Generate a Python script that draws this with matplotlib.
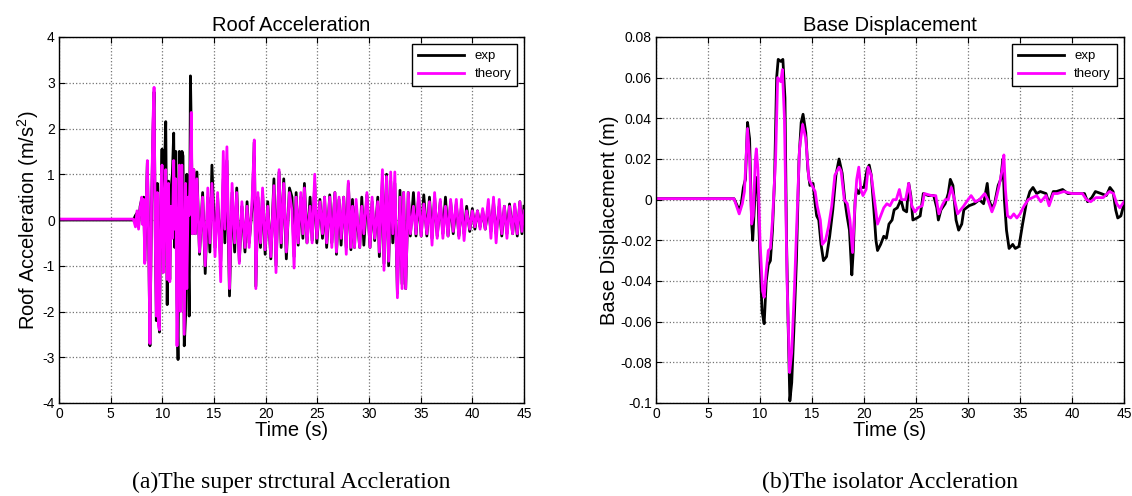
import matplotlib
matplotlib.use("Agg")
import matplotlib.pyplot as plt

# ---------------- data: roof acceleration ----------------
t_acc = [0.0, 7.2, 7.4, 7.55, 7.7, 7.85, 8.0, 8.1, 8.2, 8.3, 8.42, 8.55, 8.68, 8.8, 8.95,
         9.1, 9.2, 9.32, 9.42, 9.52, 9.62, 9.72, 9.85, 9.97, 10.1, 10.22, 10.33, 10.47, 10.6,
         10.72, 10.85, 10.97, 11.1, 11.2, 11.3, 11.42, 11.52, 11.65, 11.77, 11.9, 12.0, 12.12,
         12.25, 12.37, 12.5, 12.6, 12.72, 12.8, 12.92, 13.05, 13.2,
         13.35, 13.6, 13.9, 14.15, 14.4, 14.6, 14.8, 15.1, 15.35, 15.65, 15.9, 16.05, 16.25,
         16.5, 16.75, 17.0, 17.2, 17.45, 17.7, 18.0, 18.2, 18.4, 18.7, 18.9, 19.05, 19.25,
         19.5, 19.7, 19.95, 20.2, 20.5, 20.8, 21.0, 21.3, 21.5, 21.75, 22.0, 22.3, 22.55,
         22.75, 22.95, 23.15, 23.4, 23.6, 23.75, 24.0, 24.3, 24.5, 24.75, 24.95, 25.25, 25.5,
         25.7, 25.9, 26.2, 26.4, 26.7, 26.85, 27.1, 27.3, 27.55, 27.8, 28.0, 28.25, 28.4,
         28.6, 28.75, 29.1, 29.3, 29.5, 29.8, 30.1, 30.3, 30.55, 30.85, 31.0, 31.3, 31.45,
         31.7, 31.9, 32.1, 32.3, 32.5, 32.75, 33.0, 33.2, 33.35, 33.55, 33.8, 34.0, 34.3,
         34.55, 34.8, 35.05, 35.3, 35.6, 35.85, 36.1, 36.35, 36.6, 36.9, 37.15, 37.4, 37.65,
         37.9, 38.15, 38.45, 38.7, 38.95, 39.2, 39.45, 39.75, 40.0, 40.25, 40.5, 40.75, 41.0,
         41.25, 41.55, 41.8, 42.05, 42.3, 42.6, 42.85, 43.1, 43.35, 43.6, 43.9, 44.1, 44.35,
         44.6, 44.8, 45.0]

acc_theory = [0.02, 0.02, -0.15, 0.2, -0.2, 0.25, 0.5, -0.1, 0.45, -0.95, 0.2, 1.3, -0.5, -2.7, 0.3,
              2.2, 2.9, -0.5, -2.1, 0.6, -2.3, -2.4, 0.5, 1.2, -1.15, 0.4, 1.1, -1.3, 0.8,
              -1.35, 0.3, -0.4, 1.3, -0.2, 0.9, -2.75, -0.8, 1.2, -2.0, 1.2, -0.5, -2.5,
              0.8, -1.5, 0.5, 0.1, 1.3, 2.35, -0.3, 1.1, -0.3,
              0.9, -0.7, 0.5, -1.0, 0.7, -0.5, 0.8, -0.8, 0.6, -1.35, 1.5, -0.2, 1.6,
              -1.5, 0.8, -0.5, 0.6, -0.95, 0.4, -0.6, 0.3, -0.6, 0.5, 1.75, -1.5, 0.6,
              -0.5, 0.7, -0.65, 0.3, -0.8, 0.75, -1.15, 1.1, -0.5, 0.8, -0.7, 0.6, 0.2,
              -1.05, 0.5, -0.5, 0.6, -0.3, 0.7, -0.5, 0.3, -0.5, 1.0, -0.4, 0.4, -0.3,
              0.5, -0.5, 0.5, -0.6, 0.6, -0.7, 0.5, -0.4, 0.5, -0.75, 0.85, -0.6, 0.3,
              -0.6, 0.45, -0.6, 0.3, -0.3, 0.6, -0.6, 0.5, -0.4, 0.4, -0.7, 1.1, -1.1,
              0.95, -0.9, 1.05, -0.3, 1.05, -1.7, 0.5, -1.5, 0.6, -1.5, 0.6, -0.3, 0.3,
              -0.3, 0.6, -0.35, 0.35, -0.3, 0.4, -0.55, 0.6, -0.4, 0.45, -0.4, 0.3, -0.35,
              0.45, -0.25, 0.45, -0.4, 0.45, -0.45, 0.2, -0.2, 0.2, -0.15, 0.2, -0.2, 0.25,
              -0.2, 0.45, -0.4, 0.5, -0.5, 0.45, -0.3, 0.3, -0.4, 0.3, -0.3, 0.35, -0.3,
              0.4, -0.25, 0.2]

acc_exp = [0.0, 0.0, 0.1, 0.15, -0.15, 0.3, 0.45, 0.0, 0.5, -0.9, 0.1, 1.25, -0.4, -2.75, 0.2,
           2.0, 2.8, -0.3, -2.2, 0.8, -2.0, -2.45, 0.3, 1.55, -0.75, 1.2, 2.15, -1.85, 0.85,
           -1.3, 0.7, 1.0, 1.9, -0.6, 1.5, -1.8, -3.05, 1.5, -0.6, 1.5, 1.4, -2.75,
           -2.1, 1.0, -0.6, -2.1, 3.15, 2.0, -0.3, 1.1, -0.3,
           1.05, -0.75, 0.6, -1.17, 0.5, -0.7, 1.2, -0.6, 0.5, -0.9, 0.9, -0.5, 1.3,
           -1.66, 0.6, -0.7, 0.7, -0.9, 0.3, -0.7, 0.4, -0.5, 0.3, 1.7, -1.45, 0.5,
           -0.6, 0.6, -0.75, 0.4, -0.85, 0.9, -1.0, 1.05, -0.6, 0.9, -0.85, 0.7, 0.5,
           -0.8, 0.6, -0.55, 0.5, -0.4, 0.8, -0.5, 0.5, -0.45, 0.8, -0.5, 0.45, -0.4,
           0.5, -0.6, 0.55, -0.5, 0.6, -0.75, 0.45, -0.55, 0.5, -0.6, 0.8, -0.65, 0.45,
           -0.6, 0.3, -0.6, 0.5, -0.55, 0.55, -0.6, 0.4, -0.45, 0.5, -0.8, 0.9, -0.95,
           1.0, -1.0, 0.85, -0.5, 0.8, -1.6, 0.65, -1.4, 0.6, -1.5, 0.6, -0.35, 0.6,
           -0.35, 0.5, -0.35, 0.55, -0.35, 0.5, -0.4, 0.5, -0.35, 0.4, -0.3, 0.5, -0.35,
           0.4, -0.3, 0.35, -0.35, 0.3, -0.3, 0.3, -0.25, 0.25, -0.2, 0.2, -0.15, 0.2,
           -0.2, 0.3, -0.25, 0.4, -0.3, 0.3, -0.35, 0.3, -0.3, 0.35, -0.3, 0.3, -0.35,
           0.4, -0.3, 0.3]

# ---------------- data: base displacement ----------------
t_dexp = [0.0, 7.5, 7.9, 8.0, 8.2, 8.4, 8.6, 8.8, 9.0, 9.2, 9.3, 9.45, 9.6, 9.8, 10.0, 10.2,
          10.4, 10.6, 10.8, 11.0, 11.2, 11.4, 11.6, 11.75, 12.0, 12.2, 12.4, 12.55, 12.7, 12.87,
          13.05, 13.25, 13.5, 13.75, 13.96, 14.14, 14.4, 14.6, 14.8, 15.1, 15.3, 15.45, 15.65,
          15.87, 16.1, 16.4, 16.7, 17.0, 17.3, 17.6, 17.9, 18.15, 18.37, 18.6, 18.83, 18.97,
          19.15, 19.3, 19.5, 19.7, 20.0, 20.3, 20.5, 20.7, 20.95, 21.15, 21.3, 21.6, 21.9,
          22.15, 22.4, 22.7, 22.9, 23.2, 23.55, 23.8, 24.1, 24.3, 24.5, 24.7, 25.1, 25.4,
          25.7, 26.2, 26.7, 27.0, 27.15, 27.4, 27.8, 28.1, 28.3, 28.55, 28.85, 29.1, 29.4,
          29.6, 30.1, 30.6, 31.1, 31.5, 31.85, 32.0, 32.3, 32.55, 32.9, 33.15, 33.35, 33.5,
          33.7, 33.95, 34.3, 34.55, 34.9, 35.25, 35.6, 35.95, 36.25, 36.6, 36.95, 37.5, 37.8,
          38.2, 38.5, 39.1, 39.6, 40.5, 41.2, 41.5, 41.9, 42.25, 42.8, 43.3, 43.65, 43.95,
          44.2, 44.4, 44.7, 45.0]
disp_exp = [0.0005, 0.0005, -0.004, -0.006, -0.002, 0.006, 0.01, 0.038, 0.03, -0.012, -0.02,
            -0.005, 0.011, 0.003, -0.03, -0.055, -0.061, -0.04, -0.032, -0.03, -0.015, 0.01,
            0.06, 0.069, 0.068, 0.069, 0.05, -0.02, -0.06, -0.099, -0.09, -0.065, -0.03, 0.02,
            0.038, 0.042, 0.033, 0.015, 0.007, 0.008, -0.002, -0.008, -0.01, -0.022, -0.03,
            -0.028, -0.018, -0.005, 0.012, 0.02, 0.013, 0.0, -0.008, -0.015, -0.037, -0.025,
            0.0, 0.005, 0.003, 0.006, 0.006, 0.015, 0.017, 0.012, -0.005, -0.02, -0.025,
            -0.022, -0.018, -0.019, -0.012, -0.01, -0.005, -0.004, 0.0, -0.005, -0.006, 0.008,
            0.002, -0.01, -0.009, -0.008, 0.003, 0.002, 0.002, -0.004, -0.01, -0.005, -0.002,
            0.003, 0.01, 0.007, -0.01, -0.015, -0.012, -0.005, -0.003, -0.002, 0.0, -0.002,
            0.008, 0.0, -0.004, -0.002, 0.007, 0.01, 0.02, 0.0, -0.015, -0.024, -0.022,
            -0.024, -0.023, -0.012, -0.002, 0.004, 0.006, 0.003, 0.004, 0.003, -0.002, 0.004,
            0.004, 0.005, 0.003, 0.003, 0.003, -0.001, 0.001, 0.004, 0.003, 0.002, 0.006,
            0.004, -0.005, -0.009, -0.008, -0.002]

t_dth = [0.0, 7.5, 8.0, 8.3, 8.5, 8.8, 9.0, 9.2, 9.35, 9.55, 9.65, 9.8, 10.0, 10.25, 10.4,
         10.6, 10.8, 11.0, 11.2, 11.5, 11.7, 12.0, 12.15, 12.35, 12.6, 12.85, 13.05, 13.3,
         13.55, 13.8, 14.1, 14.4, 14.7, 15.0, 15.3, 15.5, 15.8, 16.0, 16.3, 16.6, 16.9, 17.2,
         17.6, 17.8, 18.1, 18.4, 18.65, 18.9, 19.1, 19.3, 19.5, 19.7, 19.9, 20.2, 20.4, 20.7,
         21.0, 21.3, 21.6, 21.9, 22.2, 22.5, 22.8, 23.1, 23.4, 23.6, 24.0, 24.3, 24.6, 24.9,
         25.2, 25.6, 25.8, 26.5, 26.9, 27.2, 27.5, 27.8, 28.1, 28.4, 28.7, 29.0, 29.3, 29.6,
         30.0, 30.3, 30.7, 31.1, 31.6, 31.9, 32.3, 32.6, 33.0, 33.3, 33.45, 33.6, 33.8, 34.1,
         34.4, 34.7, 35.0, 35.4, 35.8, 36.2, 36.6, 37.0, 37.5, 37.8, 38.2, 38.6, 39.2, 40.0,
         41.0, 41.4, 41.8, 42.3, 43.0, 43.6, 44.0, 44.3, 44.6, 45.0]
disp_theory = [0.0005, 0.0005, -0.007, -0.002, 0.004, 0.035, 0.02, -0.012, -0.008, 0.02, 0.025,
               0.015, -0.02, -0.045, -0.048, -0.035, -0.025, -0.024, -0.01, 0.02, 0.06, 0.058,
               0.064, 0.04, -0.04, -0.085, -0.075, -0.045, -0.01, 0.025, 0.037, 0.03, 0.01,
               0.007, 0.004, -0.003, -0.01, -0.022, -0.02, -0.013, -0.003, 0.012, 0.016, 0.014,
               0.0, -0.002, -0.01, -0.026, -0.005, 0.01, 0.016, 0.005, 0.002, 0.005, 0.016,
               0.012, 0.0, -0.012, -0.008, -0.004, -0.002, -0.003, 0.0, 0.0, 0.005, 0.0, 0.0,
               0.008, -0.003, -0.006, -0.004, -0.003, 0.003, 0.002, 0.002, -0.007, -0.003, 0.0,
               0.0, 0.006, 0.0, -0.007, -0.005, -0.003, 0.0, 0.002, -0.001, 0.0, 0.003, 0.0,
               -0.006, -0.002, 0.007, 0.015, 0.022, 0.005, -0.008, -0.009, -0.007, -0.009,
               -0.007, -0.003, 0.0, 0.001, 0.002, -0.001, 0.002, -0.003, 0.003, 0.003, 0.004,
               0.003, 0.003, 0.0, -0.001, 0.001, 0.001, 0.004, 0.003, -0.002, -0.004, -0.001]

# ---------------- labels ----------------
x_ticks = [0, 5, 10, 15, 20, 25, 30, 35, 40, 45]
acc_yticks = [-4, -3, -2, -1, 0, 1, 2, 3, 4]
acc_yticklabels = ['-4', '-3', '-2', '-1', '0', '1', '2', '3', '4']
disp_yticks = [-0.1, -0.08, -0.06, -0.04, -0.02, 0, 0.02, 0.04, 0.06, 0.08]
disp_yticklabels = ['-0.1', '-0.08', '-0.06', '-0.04', '-0.02', '0', '0.02', '0.04', '0.06', '0.08']
legend_labels = ['exp', 'theory']
titles = ['Roof Acceleration', 'Base Displacement']
ylabels = ['Roof Acceleration (m/s$^2$)', 'Base Displacement (m)']
xlabel = 'Time (s)'
captions = ['(a)The super strctural Accleration', '(b)The isolator Accleration']

plt.rcParams['font.family'] = ['Liberation Sans', 'DejaVu Sans']
plt.rcParams['mathtext.fontset'] = 'custom'
plt.rcParams['mathtext.rm'] = 'Liberation Sans'
plt.rcParams['mathtext.it'] = 'Liberation Sans'

W, H = 1132, 496
fig = plt.figure(figsize=(W / 100, H / 100), dpi=100)

ax1 = fig.add_axes([59 / W, (H - 403) / H, 465 / W, 366 / H])
ax2 = fig.add_axes([656 / W, (H - 403) / H, 468 / W, 366 / H])

EXP_C = 'black'
TH_C = '#ff00ff'

ax1.plot(t_acc, acc_exp, color=EXP_C, lw=2.0, label=legend_labels[0])
ax1.plot(t_acc, acc_theory, color=TH_C, lw=2.0, label=legend_labels[1])
ax2.plot(t_dexp, disp_exp, color=EXP_C, lw=2.0, label=legend_labels[0])
ax2.plot(t_dth, disp_theory, color=TH_C, lw=2.0, label=legend_labels[1])

ax1.set_ylim(-4, 4)
ax1.set_yticks(acc_yticks)
ax1.set_yticklabels(acc_yticklabels)
ax2.set_ylim(-0.1, 0.08)
ax2.set_yticks(disp_yticks)
ax2.set_yticklabels(disp_yticklabels)

for ax, title, yl in ((ax1, titles[0], ylabels[0]), (ax2, titles[1], ylabels[1])):
    ax.set_xlim(0, 45)
    ax.set_xticks(x_ticks)
    ax.grid(True, color='0.45', linestyle=':', linewidth=0.9)
    ax.tick_params(direction='in', top=True, right=True, labelsize=10, length=4,
                   width=0.8, pad=3)
    for s in ax.spines.values():
        s.set_linewidth(1.0)
        s.set_color('black')
    ax.set_title(title, fontsize=14.5, pad=4)
    ax.set_xlabel(xlabel, fontsize=14.5, labelpad=0)
    ax.set_ylabel(yl, fontsize=14.5, labelpad=1)
    leg = ax.legend(loc='upper right', bbox_to_anchor=(0.985, 0.981), fontsize=9.5,
                    frameon=True, fancybox=False, edgecolor='black', framealpha=1,
                    borderaxespad=0, handlelength=3.5, borderpad=0.45, labelspacing=0.45)
    leg.get_frame().set_linewidth(1.0)

fig.text((59 + 465 / 2) / W, 1 - 482 / H, captions[0], ha='center', va='center',
         fontsize=17, family=['Liberation Serif', 'DejaVu Serif'])
fig.text((656 + 468 / 2) / W, 1 - 482 / H, captions[1], ha='center', va='center',
         fontsize=17, family=['Liberation Serif', 'DejaVu Serif'])

fig.savefig('out.png', dpi=100, facecolor='white')
